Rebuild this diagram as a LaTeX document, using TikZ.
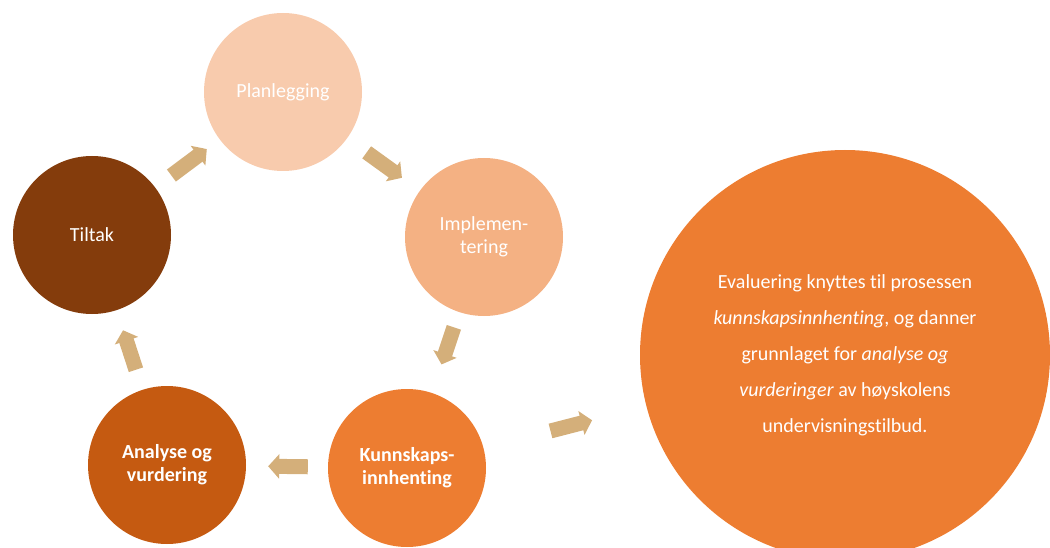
\documentclass[tikz,border=0pt]{standalone}
\usepackage{fontspec}
\setmainfont{Carlito}[Ligatures=NoCommon]
\usetikzlibrary{arrows.meta}

\definecolor{plancol}{HTML}{F8CBAD}
\definecolor{implcol}{HTML}{F4B183}
\definecolor{kunncol}{HTML}{ED7D31}
\definecolor{analcol}{HTML}{C55A11}
\definecolor{tiltcol}{HTML}{843C0C}
\definecolor{flowcol}{RGB}{212,175,122}

\tikzset{
  phase/.style={circle,minimum size=158pt,inner sep=0pt,text=white,align=center,
    font=\fontsize{20}{23}\selectfont},
  flow/.style={line width=15pt,color=flowcol,-{Triangle[width=24pt,length=11pt]}},
}

\begin{document}
\begin{tikzpicture}[x=1pt,y=-1pt]
    \clip (0,0) rectangle (1050,548);

    \node[phase,fill=plancol] (plan) at (283,92) {Planlegging};
    \node[phase,fill=implcol] (impl) at (484,237) {Implemen-\\tering};
    \node[phase,fill=kunncol] (kunn) at (407,468) {\bfseries Kunnskaps-\\\bfseries innhenting};
    \node[phase,fill=analcol] (anal) at (167,465) {\bfseries Analyse og\\\bfseries vurdering};
    \node[phase,fill=tiltcol] (tilt) at (92,235) {Tiltak};
    \node[phase,fill=kunncol,minimum size=410pt,font=\fontsize{20}{36}\selectfont] (eval) at (845,355)
      {Evaluering knyttes til prosessen\\
       \textit{kunnskapsinnhenting}, og danner\\
       grunnlaget for \textit{analyse og}\\
       \textit{vurderinger} av høyskolens\\
       undervisningstilbud.};

    \draw[flow,shorten <=20pt,shorten >=16pt] (tilt) -- (plan);
    \draw[flow,shorten <=24pt,shorten >=22pt] (plan) -- (impl);
    \draw[flow,shorten <=16pt,shorten >=30pt] (impl) -- (kunn);
    \draw[flow,shorten <=20pt,shorten >=22pt] (kunn) -- (anal);
    \draw[flow,shorten <=21pt,shorten >=21pt] (anal) -- (tilt);
    \draw[flow,shorten <=69pt,shorten >=56pt] (kunn) -- (eval);
\end{tikzpicture}
\end{document}
